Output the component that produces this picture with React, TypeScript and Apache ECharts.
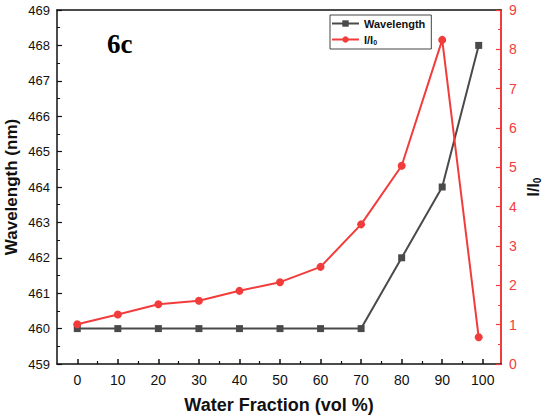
import React, { useEffect, useRef } from "react";
import * as echarts from "echarts";

const waterFraction = [0, 10, 20, 30, 40, 50, 60, 70, 80, 90, 99];
const wavelength = [460, 460, 460, 460, 460, 460, 460, 460, 462, 464, 468];
const intensity = [1.01, 1.26, 1.52, 1.61, 1.86, 2.08, 2.47, 3.55, 5.04, 8.24, 0.68];
const xMajorTicks = [0, 10, 20, 30, 40, 50, 60, 70, 80, 90, 100];
const xMinorTicks = [5, 15, 25, 35, 45, 55, 65, 75, 85, 95];

const FONT = "'Liberation Sans', Arial, sans-serif";
const RED = "#f23c3c";
const GRAY = "#4a4a4a";

export default function App() {
  const ref = useRef<HTMLDivElement>(null);
  useEffect(() => {
    if (!ref.current) return;
    const chart = echarts.init(ref.current, null, { renderer: "svg" });
    const xRange = { min: -5, max: 104.5 };
    chart.setOption({
      animation: false,
      backgroundColor: "#ffffff",
      textStyle: { fontFamily: FONT },
      grid: { left: 57, right: 48, top: 10, bottom: 55, outerBoundsMode: "none", containLabel: false },
      legend: {
        orient: "vertical",
        left: 330,
        top: 15,
        itemWidth: 27,
        itemHeight: 8,
        itemGap: 5,
        padding: [3, 6, 3, 1],
        borderColor: "#444",
        borderWidth: 1,
        data: ["Wavelength", "I/I0"],
        formatter: (name: string) => (name === "I/I0" ? "I/I{sub|0}" : name),
        textStyle: {
          fontFamily: FONT,
          fontWeight: "bold",
          fontSize: 11,
          color: "#111",
          rich: {
            sub: { fontFamily: FONT, fontWeight: "bold", fontSize: 7, padding: [6, 0, 0, 0] },
          },
        },
      },
      xAxis: [
        {
          type: "value",
          ...xRange,
          position: "bottom",
          axisLine: { onZero: false, lineStyle: { color: "#111", width: 1.5 } },
          axisTick: { customValues: xMajorTicks, inside: true, length: 5, lineStyle: { color: "#111", width: 1.5 } },
          axisLabel: { customValues: xMajorTicks, color: "#111", fontSize: 14, margin: 9, fontFamily: FONT },
          splitLine: { show: false },
          name: "Water Fraction (vol %)",
          nameLocation: "middle",
          nameGap: 32,
          nameMoveOverlap: false,
          nameTextStyle: { fontFamily: FONT, fontWeight: "bold", fontSize: 18, color: "#111" },
        },
        {
          type: "value",
          ...xRange,
          position: "bottom",
          axisLine: { show: false },
          axisTick: { customValues: xMinorTicks, inside: true, length: 3, lineStyle: { color: "#111", width: 1.2 } },
          axisLabel: { show: false },
          splitLine: { show: false },
        },
        {
          type: "value",
          ...xRange,
          position: "top",
          axisLine: { onZero: false, lineStyle: { color: "#111", width: 1.5 } },
          axisTick: { show: false },
          axisLabel: { show: false },
          splitLine: { show: false },
        },
      ],
      yAxis: [
        {
          type: "value",
          min: 459,
          max: 469,
          interval: 1,
          position: "left",
          axisLine: { show: true, onZero: false, lineStyle: { color: "#111", width: 1.5 } },
          axisTick: { inside: true, length: 5, lineStyle: { color: "#111", width: 1.2 } },
          minorTick: { show: true, splitNumber: 2, length: 3, lineStyle: { color: "#111", width: 1 } },
          axisLabel: { color: "#111", fontSize: 13, margin: 7, fontFamily: FONT },
          splitLine: { show: false },
          name: "Wavelength (nm)",
          nameLocation: "middle",
          nameGap: 37,
          nameMoveOverlap: false,
          nameTextStyle: { fontFamily: FONT, fontWeight: "bold", fontSize: 17, color: "#111" },
        },
        {
          type: "value",
          min: 0,
          max: 9,
          interval: 1,
          position: "right",
          axisLine: { show: true, onZero: false, lineStyle: { color: RED, width: 2 } },
          axisTick: { inside: true, length: 5, lineStyle: { color: RED, width: 1.2 } },
          minorTick: { show: true, splitNumber: 2, length: 3, lineStyle: { color: RED, width: 1 } },
          axisLabel: { color: RED, fontSize: 14, margin: 8, fontFamily: FONT },
          splitLine: { show: false },
          name: "I/I{sub|0}",
          nameLocation: "middle",
          nameGap: 23,
          nameMoveOverlap: false,
          nameTextStyle: {
            fontFamily: FONT,
            fontWeight: "bold",
            fontSize: 16,
            color: "#111",
            rich: {
              sub: { fontFamily: FONT, fontWeight: "bold", fontSize: 10, padding: [8, 0, 0, 0], color: "#111" },
            },
          },
        },
      ],
      graphic: [
        {
          type: "text",
          left: 107,
          top: 30,
          style: {
            text: "6c",
            font: "bold 27px 'Liberation Serif', 'Times New Roman', serif",
            fill: "#000",
          },
        },
      ],
      series: [
        {
          name: "Wavelength",
          type: "line",
          xAxisIndex: 0,
          yAxisIndex: 0,
          data: waterFraction.map((x, i) => [x, wavelength[i]]),
          symbol: "rect",
          symbolSize: 7,
          color: GRAY,
          lineStyle: { color: GRAY, width: 2 },
          itemStyle: { color: GRAY },
          z: 2,
        },
        {
          name: "I/I0",
          type: "line",
          xAxisIndex: 0,
          yAxisIndex: 1,
          data: waterFraction.map((x, i) => [x, intensity[i]]),
          symbol: "circle",
          symbolSize: 8,
          color: RED,
          lineStyle: { color: RED, width: 2 },
          itemStyle: { color: RED },
          z: 3,
        },
      ],
    });
    return () => chart.dispose();
  }, []);
  return (
    <div
      ref={ref}
      style={{ position: "fixed", left: 0, top: 0, width: 549, height: 419 }}
    />
  );
}
